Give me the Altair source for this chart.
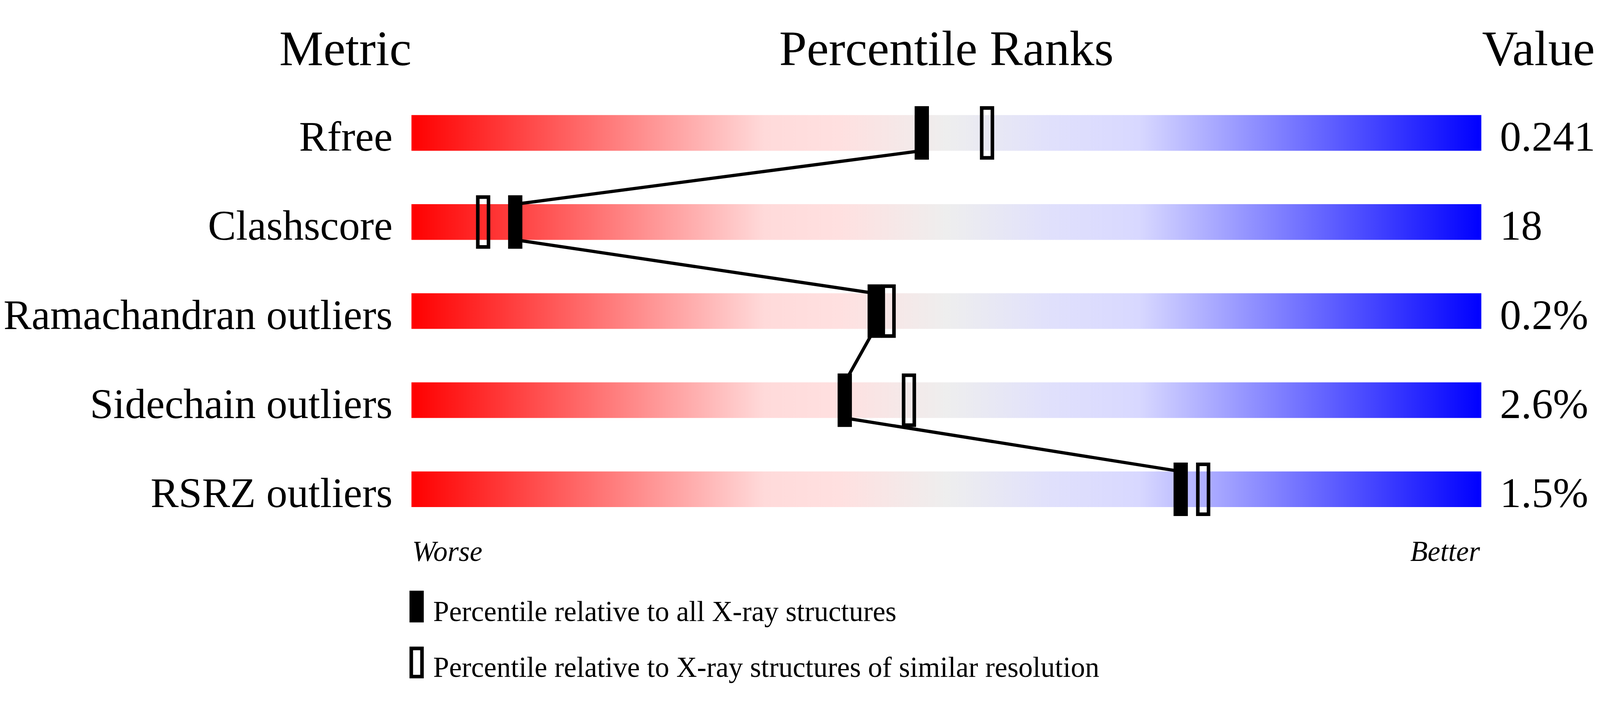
import altair as alt
import pandas as pd

# wwPDB-style percentile slider
metrics = ["Rfree", "Clashscore", "Ramachandran outliers", "Sidechain outliers", "RSRZ outliers"]
values = ["0.241", "18", "0.2%", "2.6%", "1.5%"]
pct_all = [47.7, 9.7, 43.3, 40.5, 71.9]
pct_similar = [53.8, 6.7, 44.6, 46.5, 74.0]

kind_all = "Percentile relative to all X-ray structures"
kind_similar = "Percentile relative to X-ray structures of similar resolution"

serif = "Liberation Serif"
n = len(metrics)

rows = pd.DataFrame({"metric": metrics, "value": values, "idx": list(range(n)),
                     "lo": [0] * n, "hi": [100] * n})
markers = pd.DataFrame({
    "metric": metrics * 2,
    "idx": list(range(n)) * 2,
    "kind": [kind_all] * n + [kind_similar] * n,
    "pct": pct_all + pct_similar,
})
links = pd.DataFrame({
    "idx": list(range(n - 1)), "idx2": list(range(1, n)),
    "pct": pct_all[:-1], "pct2": pct_all[1:],
})

xs = alt.Scale(domain=[0, 100], range=[1145, 4145], padding=0, nice=False, zero=False)
ys = alt.Scale(domain=[0, n - 1], range=[278, 1278], padding=0, nice=False, zero=False)

gradient = alt.Gradient(
    gradient="linear", x1=0, x2=1, y1=0, y2=0,
    stops=[
        alt.GradientStop(offset=0.0, color="#ff0000"),
        alt.GradientStop(offset=0.33, color="#ffdada"),
        alt.GradientStop(offset=0.40, color="#ffe0e0"),
        alt.GradientStop(offset=0.50, color="#eeeeee"),
        alt.GradientStop(offset=0.60, color="#e0e0fc"),
        alt.GradientStop(offset=0.68, color="#d8d8ff"),
        alt.GradientStop(offset=1.0, color="#0000ff"),
    ],
)

base = alt.Chart(rows)

bars = base.mark_bar(size=100, orient="horizontal", color=gradient).encode(
    x=alt.X("lo:Q", scale=xs, axis=None),
    x2="hi:Q",
    y=alt.Y("idx:Q", scale=ys, axis=None),
)

labels = base.mark_text(align="right", baseline="alphabetic", font=serif, fontSize=118,
                        dx=-53, dy=50).encode(
    x=alt.datum(0), y="idx:Q", text="metric:N")

vals = base.mark_text(align="left", baseline="alphabetic", font=serif, fontSize=119,
                      dx=52, dy=50).encode(
    x=alt.datum(100), y="idx:Q", text="value:N")

links_layer = alt.Chart(links).mark_rule(color="black", strokeWidth=9,
                                         yOffset=50, y2Offset=-50).encode(
    x="pct:Q", x2="pct2:Q", y="idx:Q", y2="idx2:Q")

sym = "M-0.3797,-1.4177H0.3797V0.5823H-0.3797Z"
ticks = alt.Chart(markers).mark_tick(orient="vertical", thickness=30, size=140,
                                     stroke="black", strokeWidth=10, opacity=1).encode(
    x="pct:Q",
    y="idx:Q",
    fill=alt.Fill("kind:N",
                  scale=alt.Scale(domain=[kind_all, kind_similar], range=["black", "transparent"]),
                  legend=alt.Legend(title=None, orient="none", legendX=1115, legendY=1579,
                                    symbolType=sym, symbolSize=6241, symbolStrokeColor="black",
                                    symbolStrokeWidth=10, labelFont=serif, labelFontSize=80,
                                    labelColor="black", labelLimit=3000, labelOffset=2,
                                    rowPadding=37, symbolOpacity=1)),
)


def header(text, pos, align, dx=0):
    return alt.Chart(rows).transform_filter("datum.idx == 0").mark_text(
        align=align, baseline="alphabetic", font=serif, fontSize=139, dx=dx
    ).encode(x=alt.datum(pos), y=alt.value(88), text=alt.value(text))


def end_note(text, pos, align, dx=0):
    return alt.Chart(rows).transform_filter("datum.idx == 0").mark_text(
        align=align, baseline="alphabetic", font=serif, fontSize=80, fontStyle="italic", dx=dx
    ).encode(x=alt.datum(pos), y=alt.value(1479), text=alt.value(text))


chart = alt.layer(
    bars, links_layer, ticks, labels, vals,
    header("Metric", 0, "right"),
    header("Percentile Ranks", 50, "center"),
    header("Value", 100, "left", 2),
    end_note("Worse", 0, "left", 2),
    end_note("Better", 100, "right", -4),
).properties(
    width=4469, height=1808, padding=0,
    autosize=alt.AutoSizeParams(type="none"),
).configure_view(strokeWidth=0)

chart.save("out.html", embed_options={"renderer": "svg", "actions": False})
